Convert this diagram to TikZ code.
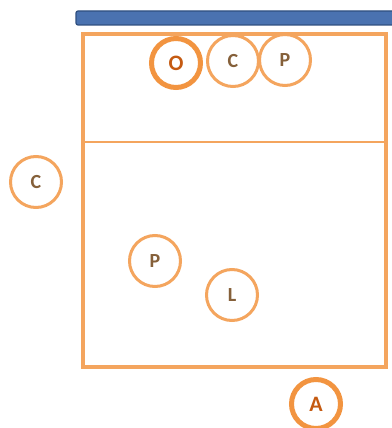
\documentclass[tikz,border=0pt]{standalone}
\usepackage{fontspec}
\setmainfont{Carlito}
\usepackage{xcolor}
\usetikzlibrary{positioning}

\definecolor{courtline}{HTML}{F4A55E}
\definecolor{markline}{HTML}{F29440}
\definecolor{netfill}{HTML}{4A72B0}
\definecolor{netdraw}{HTML}{2F4F80}
\definecolor{keytext}{HTML}{C55A11}
\definecolor{roletext}{HTML}{85603A}

\tikzset{
  player/.style={circle, draw=courtline, line width=3pt, fill=white, minimum size=51pt,
    inner sep=0pt, text=roletext, font=\fontsize{20}{20}\selectfont\bfseries},
  keyplayer/.style={player, draw=markline, line width=5pt, minimum size=49pt, text=keytext,
    font=\fontsize{22}{22}\selectfont\bfseries}
}

\begin{document}
\begin{tikzpicture}[x=1pt, y=-1pt]
  \useasboundingbox (0,0) rectangle (391,428);

  % net
  \draw[netdraw, fill=netfill, line width=1.2pt, rounded corners=2pt] (76,11) rectangle (395,25);

  % half court
  \draw[courtline, line width=4pt] (83,34) rectangle (386,367);
  \draw[courtline, line width=2pt] (83,142) -- (386,142);

  % players at the net
  \node[keyplayer] (setter) at (176,63) {O};
  \node[player] (middle) at (233,61) {C};
  \node[player] (outside) at (285,60) {P};

  % players in the back
  \node[player] (blocker) at (36,182) {C};
  \node[player] (receiver) at (155,261) {P};
  \node[player] (libero) at (232,295) {L};

  % coach outside the court
  \node[keyplayer] (coach) at (316,404) {A};
\end{tikzpicture}
\end{document}
